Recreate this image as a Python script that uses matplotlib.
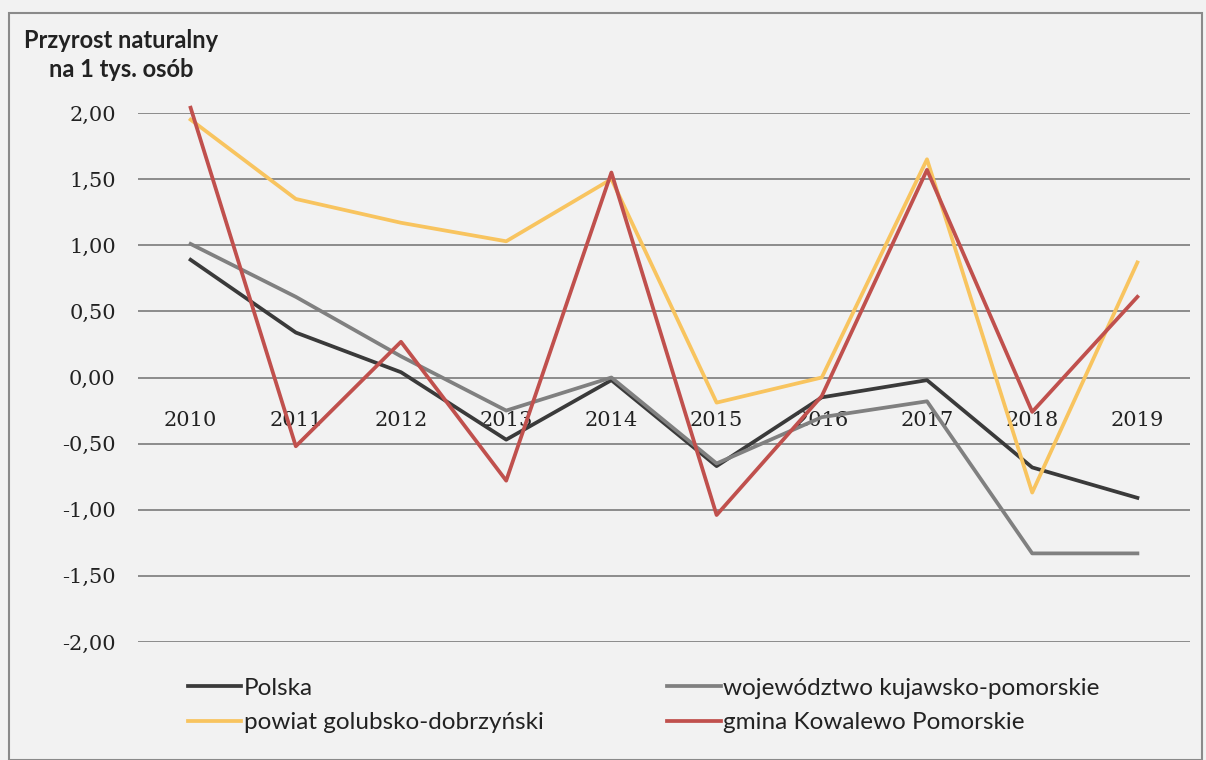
import matplotlib.pyplot as plt
from matplotlib.patches import Rectangle

# dane: przyrost naturalny na 1 tys. osob
lata = [2010, 2011, 2012, 2013, 2014, 2015, 2016, 2017, 2018, 2019]
polska = [0.89, 0.34, 0.04, -0.47, -0.02, -0.67, -0.15, -0.02, -0.68, -0.91]
wojewodztwo = [1.01, 0.61, 0.16, -0.25, 0.00, -0.65, -0.30, -0.18, -1.33, -1.33]
powiat = [1.95, 1.35, 1.17, 1.03, 1.50, -0.19, 0.00, 1.65, -0.87, 0.87]
gmina = [2.04, -0.52, 0.27, -0.78, 1.55, -1.04, -0.14, 1.57, -0.26, 0.61]
y_ticks = [2.0, 1.5, 1.0, 0.5, 0.0, -0.5, -1.0, -1.5, -2.0]
y_labels = ['2,00', '1,50', '1,00', '0,50', '0,00', '-0,50', '-1,00', '-1,50', '-2,00']

bg = '#f2f2f2'
fig = plt.figure(figsize=(12.06, 7.6), dpi=100, facecolor=bg)
ax = fig.add_axes([138 / 1206, 1 - 642 / 760, (1190 - 138) / 1206, 529 / 760])
ax.set_facecolor(bg)

# ramka
fig.patches.append(Rectangle((9 / 1206, 0), 1193 / 1206, 1 - 13 / 760, transform=fig.transFigure,
                             fill=False, edgecolor='#8a8a8a', linewidth=1.5))

l1, = ax.plot(lata, polska, color='#3a3a3a', lw=2.7, label='Polska', clip_on=False)
l2, = ax.plot(lata, wojewodztwo, color='#808080', lw=2.7, label='województwo kujawsko-pomorskie', clip_on=False)
l3, = ax.plot(lata, powiat, color='#f8c45f', lw=2.7, label='powiat golubsko-dobrzyński', clip_on=False)
l4, = ax.plot(lata, gmina, color='#c0504d', lw=2.7, label='gmina Kowalewo Pomorskie', clip_on=False)

# os kategorii przecina w zerze
ax.spines['bottom'].set_position(('data', 0))
for s in ax.spines.values():
    s.set_visible(False)

ax.set_xlim(2009.5, 2019.5)
ax.set_ylim(-2, 2)
ax.set_yticks(y_ticks)
ax.set_yticklabels(y_labels, family='DejaVu Serif', fontsize=15, color='#222222')
ax.set_xticks(lata)
ax.set_xticklabels([str(r) for r in lata], family='DejaVu Serif', fontsize=15, color='#222222')
ax.tick_params(axis='x', length=0, pad=24)
ax.tick_params(axis='y', length=0, pad=16)
ax.grid(axis='y', color='#8c8c8c', lw=1.4)
ax.set_axisbelow(True)

fig.text(121 / 1206, 1 - 55 / 760, 'Przyrost naturalny\nna 1 tys. osób', ha='center', va='center',
         multialignment='center', family='Lato', fontweight='bold', fontsize=17, color='#222222',
         linespacing=1.35)

fig.legend(handles=[l1, l3, l2, l4], loc='upper left', bbox_to_anchor=(178 / 1206, 1 - 668 / 760),
           ncol=2, frameon=False, prop={'family': 'Lato', 'size': 17.5}, handlelength=2.2,
           handletextpad=0.1, columnspacing=5.1, labelspacing=0.55, borderaxespad=0,
           labelcolor='#222222')

fig.savefig('out.png', dpi=100, facecolor=bg)
